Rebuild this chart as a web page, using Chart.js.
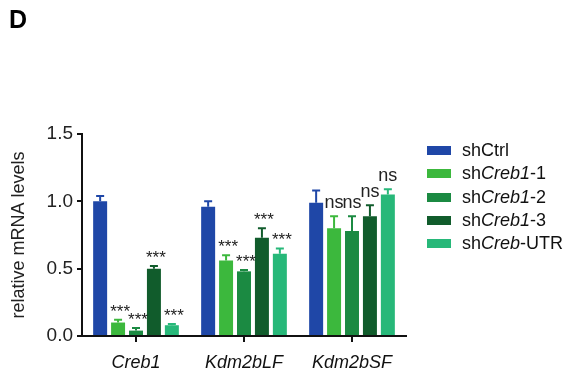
<!DOCTYPE html>
<html>
<head>
<meta charset="utf-8">
<script src="https://cdn.jsdelivr.net/npm/chart.js@4/dist/chart.umd.min.js"></script>
<style>
  html, body { margin: 0; padding: 0; background: #fff; }
  #wrap { position: relative; width: 566px; height: 376px; font-family: "Liberation Sans", Arial, sans-serif; }
  #c { position: absolute; left: 0; top: 0; }
  #panel { position: absolute; left: 9px; top: 7px; font-weight: bold; font-size: 25px; line-height: 25px; color: #000; }
  .lg { position: absolute; left: 427px; height: 22px; font-size: 18px; line-height: 22px; color: #111; white-space: nowrap; }
  .lg .box { position: absolute; left: 0; top: 7px; width: 24px; height: 9px; }
  .lg .txt { position: absolute; left: 35px; top: 0; }
</style>
</head>
<body>
<div id="wrap">
  <canvas id="c" width="566" height="376"></canvas>
  <div id="panel">D</div>
</div>
<script>
// ---- data ----
const categories = ["Creb1", "Kdm2bLF", "Kdm2bSF"];
const seriesNames = ["shCtrl", "shCreb1-1", "shCreb1-2", "shCreb1-3", "shCreb-UTR"];
const seriesColors = ["#1f47a7", "#3cb83d", "#1b8a42", "#115c2c", "#27b879"];

const shCtrl      = [1.00, 0.96, 0.99];
const shCreb1_1   = [0.10, 0.56, 0.80];
const shCreb1_2   = [0.04, 0.48, 0.78];
const shCreb1_3   = [0.50, 0.73, 0.89];
const shCreb_UTR  = [0.08, 0.61, 1.05];

const errCtrl     = [0.04, 0.04, 0.09];
const errCreb1_1  = [0.02, 0.04, 0.09];
const errCreb1_2  = [0.02, 0.01, 0.11];
const errCreb1_3  = [0.02, 0.07, 0.08];
const errCreb_UTR = [0.01, 0.04, 0.04];

const sigCtrl     = ["", "", ""];
const sigCreb1_1  = ["***", "***", "ns"];
const sigCreb1_2  = ["***", "***", "ns"];
const sigCreb1_3  = ["***", "***", "ns"];
const sigCreb_UTR = ["***", "***", "ns"];

const yTicks = [0.0, 0.5, 1.0, 1.5];

const values = [shCtrl, shCreb1_1, shCreb1_2, shCreb1_3, shCreb_UTR];
const errors = [errCtrl, errCreb1_1, errCreb1_2, errCreb1_3, errCreb_UTR];
const sigs = [sigCtrl, sigCreb1_1, sigCreb1_2, sigCreb1_3, sigCreb_UTR];

const FONT = '"Liberation Sans", Arial, sans-serif';

// ---- legend (HTML, real text, gene names italic) ----
const wrap = document.getElementById('wrap');
seriesNames.forEach((name, i) => {
  const row = document.createElement('div');
  row.className = 'lg';
  row.style.top = (139 + i * 23.3) + 'px';
  const box = document.createElement('div');
  box.className = 'box';
  box.style.background = seriesColors[i];
  const txt = document.createElement('span');
  txt.className = 'txt';
  const m = name.match(/^(sh)(Creb1?)(.*)$/);
  if (m) {
    txt.append(m[1]);
    const it = document.createElement('i');
    it.textContent = m[2];
    txt.append(it, m[3]);
  } else {
    txt.textContent = name;
  }
  row.append(box, txt);
  wrap.append(row);
});

// ---- error bars + significance plugin ----
const errorBarPlugin = {
  id: 'errorBars',
  afterDatasetsDraw(chart) {
    const ctx = chart.ctx;
    const y = chart.scales.y;
    chart.data.datasets.forEach((ds, i) => {
      const meta = chart.getDatasetMeta(i);
      meta.data.forEach((bar, j) => {
        const v = ds.data[j];
        const top = y.getPixelForValue(v + errors[i][j]);
        ctx.save();
        ctx.strokeStyle = seriesColors[i];
        ctx.lineWidth = 2;
        ctx.beginPath();
        ctx.moveTo(bar.x, bar.y);
        ctx.lineTo(bar.x, top);
        ctx.moveTo(bar.x - 4, top);
        ctx.lineTo(bar.x + 4, top);
        ctx.stroke();
        const s = sigs[i][j];
        if (s) {
          ctx.fillStyle = '#222';
          ctx.textAlign = 'center';
          ctx.textBaseline = 'alphabetic';
          if (s === 'ns') {
            ctx.font = '18px ' + FONT;
            ctx.fillText(s, bar.x, top - 8);
          } else {
            ctx.font = '17px ' + FONT;
            ctx.fillText(s, bar.x + 2, top - 3);
          }
        }
        ctx.restore();
      });
    });
  }
};

new Chart(document.getElementById('c'), {
  type: 'bar',
  data: {
    labels: categories,
    datasets: seriesNames.map((n, i) => ({
      label: n,
      data: values[i],
      backgroundColor: seriesColors[i],
      borderWidth: 0,
      categoryPercentage: 0.83,
      barPercentage: 0.78
    }))
  },
  options: {
    responsive: false,
    animation: false,
    layout: { padding: { top: 134, right: 160, left: 0, bottom: 0 } },
    plugins: { legend: { display: false }, tooltip: { enabled: false } },
    scales: {
      x: {
        offset: true,
        grid: { display: true, offset: false, drawOnChartArea: false, drawTicks: true, tickLength: 6, color: '#111', lineWidth: 2 },
        border: { display: true, color: '#111', width: 2 },
        ticks: { font: { family: FONT, size: 18, style: 'italic' }, color: '#111', padding: 10, maxRotation: 0 },
        afterFit(s) { s.height = 40; }
      },
      y: {
        min: 0, max: 1.5,
        afterBuildTicks(s) { s.ticks = yTicks.map(v => ({ value: v })); },
        grid: { display: true, drawOnChartArea: false, drawTicks: true, tickLength: 5, color: '#111', lineWidth: 2 },
        border: { display: true, color: '#111', width: 2 },
        ticks: { font: { family: FONT, size: 19 }, color: '#222', padding: 4, callback: v => Number(v).toFixed(1) },
        title: { display: true, text: 'relative mRNA levels', font: { family: FONT, size: 18 }, color: '#222', padding: { top: 8, bottom: 0 } },
        afterFit(s) { s.width = 82; }
      }
    }
  },
  plugins: [errorBarPlugin]
});
</script>
</body>
</html>
